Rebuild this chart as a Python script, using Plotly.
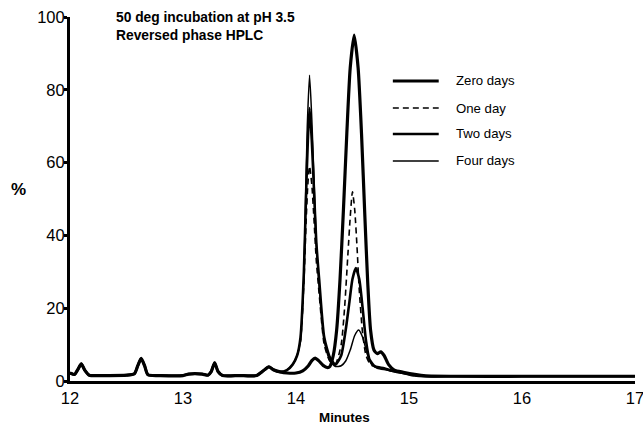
import plotly.graph_objects as go

# ---- data ----
# shared early baseline (12 - 13.86 min), same for all four runs
base_x = [12.0, 12.04, 12.07, 12.10, 12.13, 12.17, 12.3, 12.5, 12.57, 12.60, 12.63, 12.66, 12.69,
          12.8, 13.0, 13.05, 13.17, 13.22, 13.25, 13.28, 13.31, 13.35, 13.5, 13.65, 13.71, 13.76,
          13.80, 13.86]
base_y = [2.2, 1.8, 3.2, 4.7, 3.0, 1.6, 1.5, 1.6, 2.0, 4.2, 6.2, 4.2, 1.7,
          1.5, 1.5, 1.9, 1.9, 1.6, 2.6, 5.0, 2.6, 1.5, 1.5, 1.5, 2.8, 3.9,
          3.1, 2.5]

zero_x = [13.92, 14.0, 14.06, 14.11, 14.14, 14.17, 14.20, 14.24, 14.28, 14.30, 14.33, 14.36,
          14.39, 14.42, 14.45, 14.48, 14.515, 14.55, 14.58, 14.61, 14.635, 14.66, 14.69, 14.72,
          14.75, 14.78, 14.82, 14.87, 14.95, 15.05, 15.15, 15.4, 16.0, 16.5, 17.0]
zero_y = [2.2, 2.2, 2.8, 4.2, 5.6, 6.3, 5.6, 4.3, 3.7, 4.0, 7.0, 14.0,
          28.0, 47.0, 68.0, 86.0, 95.0, 86.0, 68.0, 45.0, 27.0, 14.0, 8.5, 7.5,
          8.0, 7.0, 4.5, 3.0, 2.4, 1.8, 1.4, 1.3, 1.3, 1.3, 1.3]

one_x = [13.92, 13.97, 14.01, 14.04, 14.07, 14.09, 14.105, 14.12, 14.14, 14.16, 14.18, 14.205,
         14.25, 14.30, 14.35, 14.40, 14.43, 14.46, 14.48, 14.50, 14.52, 14.54, 14.56, 14.59,
         14.62, 14.66, 14.72, 14.80, 14.90, 15.0, 15.1, 15.4, 16.0, 17.0]
one_y = [3.0, 4.5, 7.0, 11.0, 27.0, 44.0, 54.0, 59.0, 54.0, 44.0, 33.0, 24.0,
         10.0, 5.5, 4.8, 10.0, 20.0, 35.0, 45.0, 52.0, 47.0, 37.0, 25.0, 13.0,
         7.0, 4.5, 3.8, 3.3, 2.4, 1.8, 1.4, 1.3, 1.3, 1.3]

two_x = [13.92, 13.97, 14.01, 14.04, 14.07, 14.09, 14.105, 14.12, 14.14, 14.16, 14.18, 14.205,
         14.25, 14.30, 14.35, 14.40, 14.44, 14.47, 14.50, 14.53, 14.56, 14.59, 14.62, 14.65,
         14.70, 14.78, 14.85, 14.95, 15.05, 15.15, 15.4, 16.0, 17.0]
two_y = [3.0, 4.5, 7.0, 12.0, 30.0, 52.0, 66.0, 75.0, 66.0, 52.0, 38.0, 28.0,
         12.0, 6.5, 4.5, 7.0, 14.0, 21.0, 28.0, 31.0, 28.0, 20.0, 11.0, 6.0,
         4.0, 3.5, 2.8, 2.2, 1.5, 1.3, 1.3, 1.3, 1.3]

four_x = [13.92, 13.97, 14.01, 14.04, 14.07, 14.085, 14.10, 14.12, 14.14, 14.16, 14.18, 14.205,
          14.25, 14.30, 14.35, 14.40, 14.44, 14.48, 14.52, 14.555, 14.59, 14.63, 14.67, 14.72,
          14.80, 14.90, 15.0, 15.1, 15.4, 16.0, 17.0]
four_y = [3.0, 4.5, 7.0, 11.0, 29.0, 50.0, 70.0, 84.0, 72.0, 55.0, 38.0, 26.0,
          11.0, 5.5, 4.0, 4.2, 5.5, 8.5, 12.5, 14.0, 12.0, 7.5, 4.5, 3.5,
          3.0, 2.3, 1.8, 1.4, 1.3, 1.3, 1.3]

series_names = ["Zero days", "One day", "Two days", "Four days"]
y_ticks = [0, 20, 40, 60, 80, 100]
x_ticks = [12, 13, 14, 15, 16, 17]

styles = [dict(color="black", width=3.2),
          dict(color="black", width=1.6, dash="6px,4px"),
          dict(color="black", width=2.6),
          dict(color="black", width=1.5)]

fig = go.Figure()
for name, xs, ys, st in zip(series_names,
                            [zero_x, one_x, two_x, four_x],
                            [zero_y, one_y, two_y, four_y], styles):
    fig.add_trace(go.Scatter(x=base_x + xs, y=base_y + ys, mode="lines", name=name,
                             line=dict(shape="spline", smoothing=0.6, **st),
                             showlegend=False, cliponaxis=False))

font = "Liberation Sans, Arial, Helvetica, sans-serif"

# manual legend (line samples + labels)
leg_rows = [0.8242, 0.7500, 0.6786, 0.6044]
for name, st, yy in zip(series_names, styles, leg_rows):
    fig.add_shape(type="line", xref="paper", yref="paper", x0=0.5714, x1=0.6526, y0=yy, y1=yy,
                  line=st)
    fig.add_annotation(xref="paper", yref="paper", x=0.679, y=yy, text=name, showarrow=False,
                       xanchor="left", yanchor="middle",
                       font=dict(family=font, size=13.2, color="black"))

fig.add_annotation(xref="paper", yref="paper", x=0.0776, y=1.0, text="<b>50 deg incubation at pH 3.5</b>",
                   showarrow=False, xanchor="left", yanchor="middle",
                   font=dict(family=font, size=13.8, color="black"))
fig.add_annotation(xref="paper", yref="paper", x=0.0776, y=0.9505, text="<b>Reversed phase HPLC</b>",
                   showarrow=False, xanchor="left", yanchor="middle",
                   font=dict(family=font, size=13.8, color="black"))
fig.add_annotation(xref="paper", yref="paper", x=-0.091, y=0.525, text="<b>%</b>",
                   showarrow=False, xanchor="center", yanchor="middle",
                   font=dict(family=font, size=17, color="black"))
fig.add_annotation(xref="paper", yref="paper", x=0.485, y=-0.1016, text="<b>Minutes</b>",
                   showarrow=False, xanchor="center", yanchor="middle",
                   font=dict(family=font, size=13.4, color="black"))

fig.update_layout(
    width=643, height=426,
    margin=dict(l=70, r=8, t=17, b=45),
    paper_bgcolor="white", plot_bgcolor="white",
    font=dict(family=font, color="black"),
    xaxis=dict(range=[12, 17.0005], tickvals=x_ticks, showgrid=False, zeroline=False,
               showline=True, linecolor="black", linewidth=3, ticks="",
               ticklabeloverflow="allow", automargin=False,
               tickfont=dict(size=16.5, color="black"), ticklabelstandoff=0),
    yaxis=dict(range=[0, 100], tickvals=y_ticks, showgrid=False, zeroline=False,
               showline=True, linecolor="black", linewidth=3, ticks="outside", ticklen=3,
               tickwidth=3, tickcolor="black", ticklabeloverflow="allow", automargin=False,
               tickfont=dict(size=16.5, color="black"), ticklabelstandoff=-4),
)

fig.write_html("out.html")
